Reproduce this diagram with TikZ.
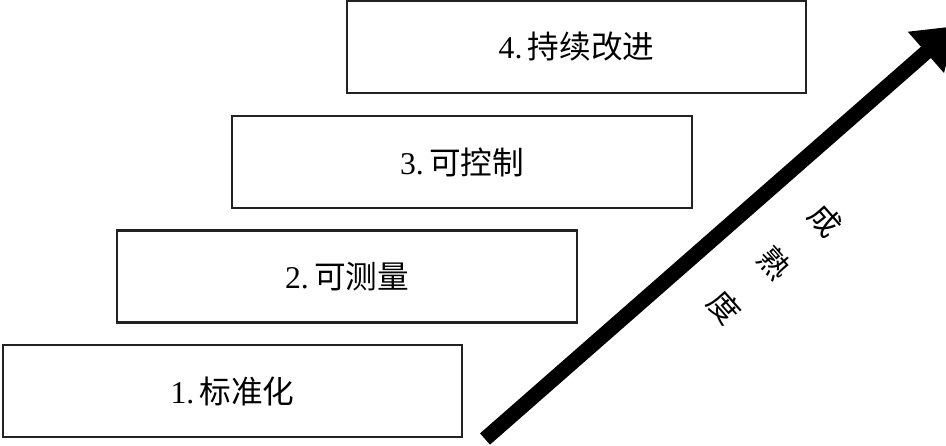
\documentclass[tikz,border=0pt]{standalone}
\usepackage{fontspec}
\usepackage{tikz}
\usetikzlibrary{arrows.meta, positioning, calc}
\setmainfont{Liberation Serif}
\newfontfamily\cjk{Noto Sans CJK SC}
\definecolor{boxLine}{HTML}{222222}

\begin{document}
\begin{tikzpicture}[x=0.01cm,y=-0.01cm,
  levelbox/.style={draw=boxLine,line width=0.6pt,minimum width=4.59cm,minimum height=0.92cm,inner sep=0pt,font=\fontsize{9pt}{10pt}\selectfont},
  agechar/.style={rotate=-48.7,inner sep=0pt,font=\fontsize{8.8pt}{10pt}\selectfont\cjk}]
\useasboundingbox (0,0) rectangle (946,445);
\clip (0,0) rectangle (946,445);
% four levels, each one step up and right
\node[levelbox] (std)  at (232.5,391) {1.\,{\cjk 标准化}};
\node[levelbox] (meas) at (347,276.5) {2.\,{\cjk 可测量}};
\node[levelbox] (ctrl) at (462,162)   {3.\,{\cjk 可控制}};
\node[levelbox] (impr) at (576.5,47)  {4.\,{\cjk 持续改进}};
% maturity arrow
\coordinate (tail) at (485,439);
\coordinate (tip) at (956,26);
\draw[black,line width=0.15cm,-{Triangle[length=0.4cm,width=0.52cm]}] (tail) -- (tip);
\node[agechar] (ch1) at (825,220) {成};
\node[agechar] (ch2) at (775,263) {熟};
\node[agechar] (ch3) at (725,307) {度};
\end{tikzpicture}
\end{document}
